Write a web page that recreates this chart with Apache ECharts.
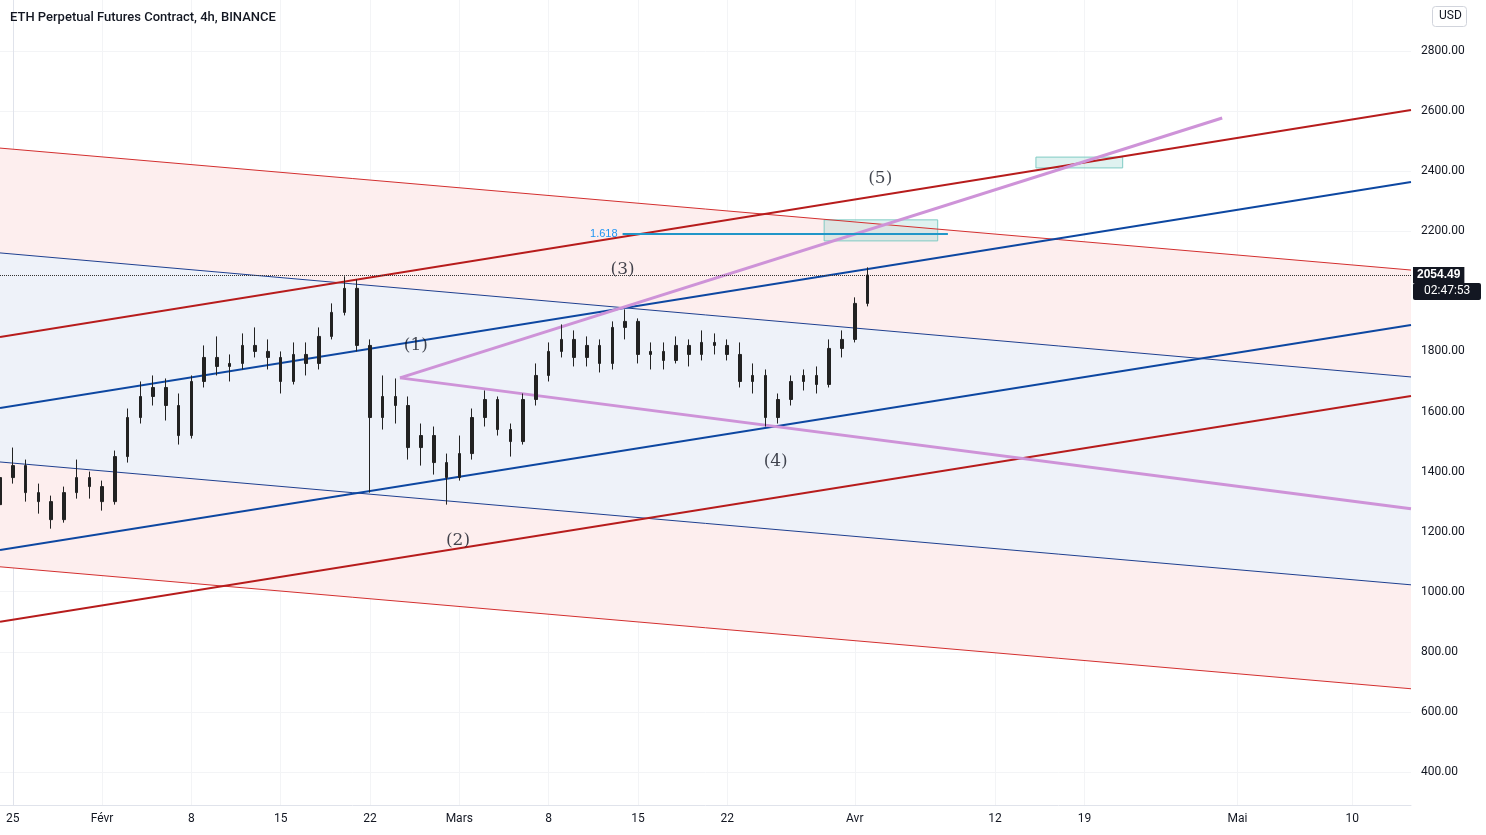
<!DOCTYPE html>
<html>
<head>
<meta charset="utf-8">
<script src="https://cdn.jsdelivr.net/npm/echarts@6/dist/echarts.min.js"></script>
<style>
  html, body { margin: 0; padding: 0; background: #fff; }
  #main { width: 1486px; height: 835px; }
</style>
</head>
<body>
<div id="main"></div>
<script>
// x is days since 25 Jan
const tickDays = [0, 7, 14, 21, 28, 35, 42, 49, 56, 66, 77, 84, 96, 105];
const tickNames = ['25', 'Févr', '8', '15', '22', 'Mars', '8', '15', '22', 'Avr', '12', '19', 'Mai', '10'];
const priceTicks = [400, 600, 800, 1000, 1200, 1400, 1600, 1800, 2000, 2200, 2400, 2600, 2800];

// daily candles: [day, open, close, low, high]
const candles = [
  [-1, 1290, 1380, 1230, 1400], [0, 1380, 1420, 1360, 1480], [1, 1420, 1330, 1300, 1440],
  [2, 1330, 1300, 1260, 1360], [3, 1300, 1240, 1210, 1320], [4, 1240, 1330, 1230, 1350],
  [5, 1330, 1380, 1310, 1440], [6, 1380, 1350, 1310, 1400], [7, 1350, 1300, 1270, 1370],
  [8, 1300, 1450, 1290, 1470], [9, 1450, 1580, 1430, 1610], [10, 1580, 1650, 1560, 1700],
  [11, 1650, 1680, 1620, 1720], [12, 1680, 1620, 1570, 1710], [13, 1620, 1520, 1490, 1660],
  [14, 1520, 1700, 1510, 1720], [15, 1700, 1780, 1680, 1820], [16, 1780, 1750, 1720, 1850],
  [17, 1750, 1760, 1700, 1790], [18, 1760, 1820, 1740, 1860], [19, 1820, 1800, 1780, 1880],
  [20, 1800, 1780, 1740, 1840], [21, 1780, 1700, 1660, 1800], [22, 1700, 1790, 1690, 1830],
  [23, 1790, 1760, 1720, 1830], [24, 1760, 1850, 1740, 1880], [25, 1850, 1930, 1840, 1960],
  [26, 1930, 2010, 1920, 2050], [27, 2010, 1820, 1800, 2040], [28, 1820, 1580, 1330, 1840],
  [29, 1580, 1650, 1540, 1720], [30, 1650, 1620, 1560, 1710], [31, 1620, 1480, 1440, 1650],
  [32, 1480, 1520, 1420, 1560], [33, 1520, 1430, 1390, 1550], [34, 1430, 1380, 1290, 1460],
  [35, 1380, 1460, 1370, 1520], [36, 1460, 1580, 1440, 1610], [37, 1580, 1640, 1550, 1670],
  [38, 1640, 1540, 1520, 1650], [39, 1540, 1500, 1450, 1560], [40, 1500, 1640, 1490, 1660],
  [41, 1640, 1720, 1620, 1760], [42, 1720, 1800, 1700, 1830], [43, 1800, 1840, 1780, 1890],
  [44, 1840, 1780, 1750, 1870], [45, 1780, 1820, 1750, 1850], [46, 1820, 1760, 1730, 1840],
  [47, 1760, 1880, 1740, 1900], [48, 1880, 1900, 1840, 1940], [49, 1900, 1790, 1760, 1910],
  [50, 1790, 1800, 1740, 1830], [51, 1800, 1770, 1740, 1830], [52, 1770, 1820, 1760, 1850],
  [53, 1820, 1790, 1750, 1840], [54, 1790, 1830, 1770, 1870], [55, 1830, 1820, 1790, 1860],
  [56, 1820, 1790, 1770, 1840], [57, 1790, 1700, 1680, 1830], [58, 1700, 1720, 1660, 1760],
  [59, 1720, 1580, 1550, 1740], [60, 1580, 1640, 1560, 1660], [61, 1640, 1700, 1620, 1720],
  [62, 1700, 1720, 1670, 1740], [63, 1720, 1690, 1660, 1750], [64, 1690, 1810, 1680, 1840],
  [65, 1810, 1840, 1780, 1870], [66, 1840, 1960, 1830, 1980], [67, 1960, 2054.49, 1950, 2080]
];

// drawn lines, [day, price] endpoints
const xL = -1, xR = 109.6;
const redDescTop = [[xL, 2477], [xR, 2071]];
const blueDescTop = [[xL, 2128], [xR, 1715]];
const blueDescBot = [[xL, 1432], [xR, 1023]];
const redDescBot = [[xL, 1083], [xR, 677]];
const redAscTop = [[xL, 1848], [xR, 2604]];
const redAscBot = [[xL, 900], [xR, 1652]];
const blueAscTop = [[xL, 1612], [xR, 2364]];
const blueAscBot = [[xL, 1139], [xR, 1888]];
const purpleUp = [[30.35, 1712], [94.8, 2577]];
const purpleDown = [[30.35, 1712], [xR, 1276]];
const fibLine = [[47.8, 2191], [73.3, 2191]];
const boxes = [[63.6, 2168, 72.5, 2238], [80.2, 2411, 87.0, 2447]];
const waveLabels = [['(1)', 31.6, 1818], ['(2)', 34.9, 1169], ['(3)', 47.8, 2071], ['(4)', 59.8, 1432], ['(5)', 68.0, 2377]];
const lastPrice = 2054.49;

// channel bands: [top line, bottom line, fill]
const bands = [
  [redDescTop, blueDescTop, '#fdeeee'],
  [blueDescTop, blueDescBot, '#eef2f9'],
  [blueDescBot, redDescBot, '#fdeeee']
];

function seg(data, color, width) {
  return { type: 'line', data: data, symbol: 'none', silent: true,
    lineStyle: { color: color, width: width }, z: 3 };
}

const chart = echarts.init(document.getElementById('main'));
chart.setOption({
  animation: false,
  backgroundColor: '#fff',
  grid: { left: 0, right: 75, top: 0, bottom: 30 },
  xAxis: {
    type: 'value', min: xL, max: xR,
    axisLine: { show: true, lineStyle: { color: '#e0e3eb' } },
    axisTick: { show: false, customValues: tickDays },
    splitLine: { show: true, lineStyle: { color: '#f3f4f6' } },
    axisLabel: { customValues: tickDays, color: '#131722', fontSize: 12, fontFamily: 'Roboto',
      formatter: v => tickNames[tickDays.indexOf(v)] || '' }
  },
  yAxis: {
    type: 'value', position: 'right', min: 290, max: 2970,
    axisLine: { show: true, lineStyle: { color: '#e0e3eb' } },
    axisTick: { show: false, customValues: priceTicks },
    splitLine: { show: true, lineStyle: { color: '#f3f4f6' } },
    axisLabel: { customValues: priceTicks, color: '#131722', fontSize: 12, fontFamily: 'Roboto',
      margin: 10, formatter: v => v.toFixed(2) }
  },
  series: [
    {
      type: 'custom', z: 1, silent: true, data: bands.map((b, i) => [i]),
      renderItem: (params, api) => {
        const b = bands[params.dataIndex];
        const pts = [api.coord(b[0][0]), api.coord(b[0][1]), api.coord(b[1][1]), api.coord(b[1][0])];
        return { type: 'polygon', shape: { points: pts }, style: { fill: b[2] } };
      }
    },
    seg(redDescTop, '#d32f2f', 1),
    seg(redDescBot, '#d32f2f', 1),
    seg(blueDescTop, '#1e3f8f', 1),
    seg(blueDescBot, '#1e3f8f', 1),
    seg(redAscTop, '#b71c1c', 2),
    seg(redAscBot, '#b71c1c', 2),
    seg(blueAscTop, '#0d47a1', 2),
    seg(blueAscBot, '#0d47a1', 2),
    seg(purpleUp, '#ce93d8', 3),
    seg(purpleDown, '#ce93d8', 3),
    {
      type: 'line', data: fibLine, symbol: 'none', silent: true, z: 4,
      lineStyle: { color: '#2196c8', width: 2 },
      markPoint: { symbol: 'circle', symbolSize: 0,
        data: [{ coord: fibLine[0], label: { show: true, formatter: '1.618', position: 'left',
          color: '#2196f3', fontSize: 11 } }] }
    },
    {
      type: 'custom', z: 2, silent: true, data: boxes,
      renderItem: (params, api) => {
        const p1 = api.coord([api.value(0), api.value(3)]);
        const p2 = api.coord([api.value(2), api.value(1)]);
        return { type: 'rect', shape: { x: p1[0], y: p1[1], width: p2[0] - p1[0], height: p2[1] - p1[1] },
          style: { fill: 'rgba(128,203,196,0.25)', stroke: '#80cbc4', lineWidth: 1 } };
      }
    },
    {
      type: 'candlestick', data: candles, encode: { x: 0, y: [1, 2, 3, 4] }, barWidth: 3, z: 5,
      itemStyle: { color: '#222', color0: '#222', borderColor: '#222', borderColor0: '#222', borderWidth: 1 },
      markLine: {
        symbol: ['none', 'none'], silent: true,
        lineStyle: { color: '#333', type: 'dotted', width: 1 },
        label: { position: 'end', formatter: '2054.49', backgroundColor: '#131722', color: '#fff',
          fontSize: 12, fontWeight: 'bold', padding: [2, 4], distance: 2 },
        data: [{ yAxis: lastPrice }]
      }
    },
    {
      type: 'scatter', symbolSize: 0, silent: true, z: 6,
      data: waveLabels.map(w => ({ name: w[0], value: [w[1], w[2]] })),
      label: { show: true, position: 'inside', formatter: '{b}', color: '#131722', fontSize: 17,
        fontFamily: 'DejaVu Serif' }
    }
  ],
  graphic: [
    { type: 'text', left: 10, top: 11, z: 100, style: { text: 'ETH Perpetual Futures Contract, 4h, BINANCE',
      fill: '#131722', font: '500 13px Roboto' } },
    { type: 'rect', left: 1432, top: 6, z: 100, shape: { width: 34, height: 20, r: 3 },
      style: { fill: '#fff', stroke: '#d1d4dc' } },
    { type: 'text', left: 1439, top: 10, z: 101, style: { text: 'USD', fill: '#131722', font: '12px Roboto' } },
    { type: 'rect', left: 1413, top: 283, z: 100, shape: { width: 68, height: 17, r: 2 }, style: { fill: '#131722' } },
    { type: 'text', left: 1424, top: 285, z: 101, style: { text: '02:47:53', fill: '#fff', font: '12px Roboto' } }
  ]
});
</script>
</body>
</html>
